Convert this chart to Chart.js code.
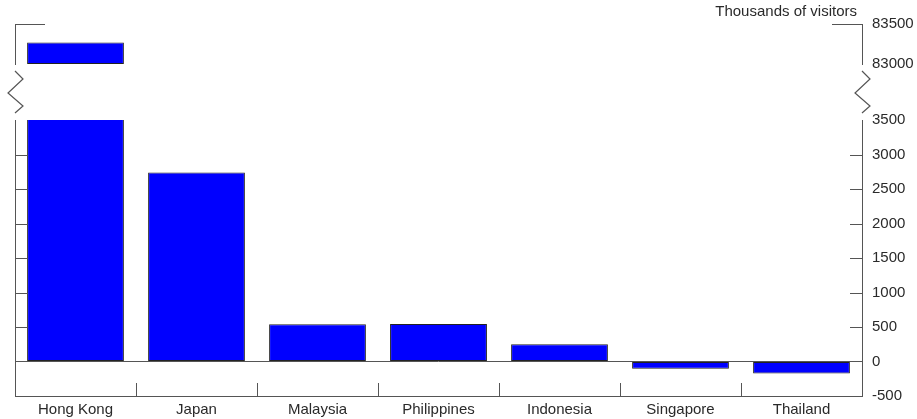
<!DOCTYPE html>
<html><head><meta charset="utf-8">
<script src="https://cdn.jsdelivr.net/npm/chart.js@4.4.1/dist/chart.umd.min.js"></script>
<style>
html,body{margin:0;padding:0;background:#fff;}
#wrap{position:relative;width:917px;height:419px;overflow:hidden;background:#fff;}
#top{position:absolute;left:0;top:0;z-index:2;}
#bot{position:absolute;left:0;top:100px;z-index:1;}
</style></head><body>
<div id="wrap"><canvas id="top" width="917" height="118"></canvas><canvas id="bot" width="917" height="319"></canvas></div>
<script>
const categories = ['Hong Kong','Japan','Malaysia','Philippines','Indonesia','Singapore','Thailand'];
const visitors = [83270, 2740, 540, 545, 250, -105, -175];
const upperTicks = [83000, 83500];
const lowerTicks = [-500, 0, 500, 1000, 1500, 2000, 2500, 3000, 3500];
const unitLabel = 'Thousands of visitors';

const FONT = '"Liberation Sans", Arial, sans-serif';
Chart.defaults.font.family = FONT;
Chart.defaults.font.size = 15;
Chart.defaults.color = '#2a2a2a';

const AXIS = '#555';
const BAR = '#0000ff';
const EDGE = '#222';

function line(ctx, x0, y0, x1, y1){ctx.beginPath();ctx.moveTo(x0,y0);ctx.lineTo(x1,y1);ctx.stroke();}
const px = v => Math.round(v) + 0.5;

const deco = {
  id: 'deco',
  afterDatasetsDraw(chart, args, o) {
    const ctx = chart.ctx, a = chart.chartArea;
    ctx.save();
    ctx.strokeStyle = AXIS; ctx.lineWidth = 1;
    (o.yTicks || []).forEach(t => {
      const s = chart.scales[t.id];
      t.values.forEach(v => {
        const y = px(s.getPixelForValue(v));
        if (t.side === 'left') line(ctx, a.left, y, a.left + t.len, y);
        else line(ctx, a.right, y, a.right - t.len, y);
      });
    });
    if (o.xTicks) {
      const s = chart.scales.x;
      for (let i = 1; i < categories.length; i++) {
        const x = px((s.getPixelForValue(i - 1) + s.getPixelForValue(i)) / 2);
        line(ctx, x, a.bottom, x, a.bottom - o.xTicks);
      }
    }
    if (o.breaks) {
      const b = o.breaks;
      ctx.lineWidth = 1.2;
      [a.left, a.right].forEach(X => {
        ctx.beginPath();
        ctx.moveTo(X, b.y0);
        ctx.lineTo(X + 8, b.y0 + 8);
        ctx.lineTo(X - 7, b.y0 + 22);
        ctx.lineTo(X + 8, b.y0 + 35);
        ctx.lineTo(X, b.y0 + 42);
        ctx.stroke();
      });
    }
    if (o.title) {
      ctx.fillStyle = '#2a2a2a';
      ctx.font = '15px ' + FONT;
      ctx.textAlign = 'right'; ctx.textBaseline = 'middle';
      ctx.fillText(o.title, a.right - 5, 12);
    }
    ctx.restore();
  }
};

function yAxes(ticks, grid) {
  const min = ticks[0], max = ticks[ticks.length - 1];
  return {
    yL: {position: 'left', min, max, ticks: {display: false},
         grid: {display: false, drawTicks: false}, border: {display: true, color: AXIS},
         afterFit(s) { s.width = 15; }},
    yR: {position: 'right', min, max,
         afterBuildTicks(s) { s.ticks = ticks.map(v => ({value: v})); },
         ticks: {padding: 10, autoSkip: false, callback: v => String(v)},
         grid: grid, border: {display: true, color: AXIS},
         afterFit(s) { s.width = 55; }}
  };
}

const upperData = visitors.map(v => v >= upperTicks[0] ? v : null);

new Chart(document.getElementById('top'), {
  type: 'bar',
  data: {labels: categories, datasets: [{
    data: upperData, yAxisID: 'yR', base: upperTicks[0],
    backgroundColor: BAR, borderColor: EDGE, borderWidth: 1, borderSkipped: false,
    barPercentage: 0.8, categoryPercentage: 1
  }]},
  options: {
    responsive: false, animation: false, events: [],
    layout: {padding: {top: 24, bottom: 54, left: 0, right: 0}},
    plugins: {legend: {display: false}, tooltip: {enabled: false},
      deco: {
        yTicks: [{id: 'yL', side: 'left', len: 30, values: [upperTicks[1]]},
                 {id: 'yR', side: 'right', len: 30, values: [upperTicks[1]]}],
        breaks: {y0: 71}, title: unitLabel
      }},
    scales: Object.assign({x: {display: false}}, yAxes(upperTicks, {display: false, drawTicks: false}))
  },
  plugins: [deco]
});

const inner = lowerTicks.filter(v => v !== 0 && v > lowerTicks[0] && v < lowerTicks[lowerTicks.length - 1]);

new Chart(document.getElementById('bot'), {
  type: 'bar',
  data: {labels: categories, datasets: [{
    data: visitors, yAxisID: 'yR', clip: 0,
    backgroundColor: BAR, borderColor: EDGE, borderWidth: 1, borderSkipped: false,
    barPercentage: 0.8, categoryPercentage: 1
  }]},
  options: {
    responsive: false, animation: false, events: [],
    layout: {padding: {top: 20, bottom: 0, left: 0, right: 0}},
    plugins: {legend: {display: false}, tooltip: {enabled: false},
      deco: {
        yTicks: [{id: 'yL', side: 'left', len: 13, values: inner},
                 {id: 'yR', side: 'right', len: 12, values: inner}],
        xTicks: 13
      }},
    scales: Object.assign({
      x: {grid: {display: false, drawTicks: false}, border: {display: true, color: AXIS},
          ticks: {padding: 5, autoSkip: false, maxRotation: 0},
          afterFit(s) { s.height = 23; }}
    }, yAxes(lowerTicks, {display: true, drawTicks: false,
          color: c => (c.tick && c.tick.value === 0) ? AXIS : 'rgba(0,0,0,0)'}))
  },
  plugins: [deco]
});
</script>
</body></html>
